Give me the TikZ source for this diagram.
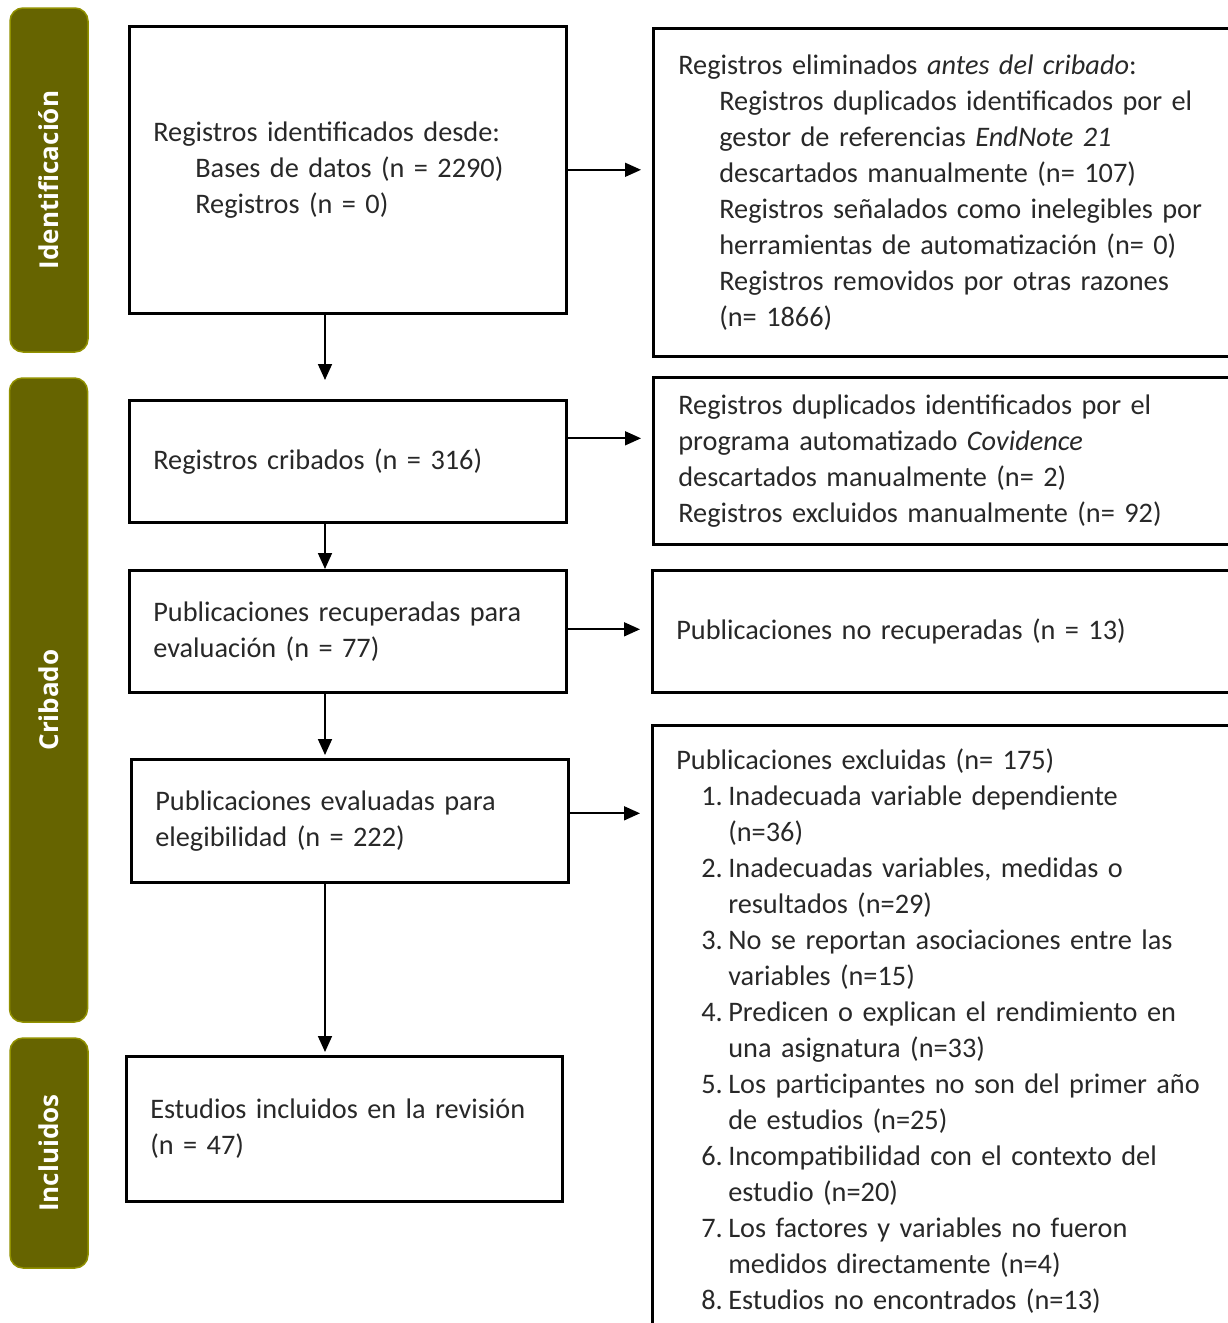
\documentclass[tikz,border=0pt]{standalone}
\usepackage{fontspec}
\setmainfont{Carlito}
\newfontfamily\barfont{Open Sans}
\usetikzlibrary{arrows.meta,calc}
\definecolor{olivefill}{RGB}{102,100,0}
\definecolor{oliveedge}{RGB}{145,145,0}
\definecolor{txt}{RGB}{40,40,40}
\newcommand{\litem}[1]{\hspace*{25pt}\makebox[27pt][l]{#1}}
\newcommand{\lcont}{\hspace*{52pt}}
\newcommand{\lind}{\hspace*{41pt}}
\begin{document}
\begin{tikzpicture}[x=1pt,y=-1pt,
  phase/.style={draw=oliveedge, line width=1.5pt, fill=olivefill, rounded corners=13pt,
    rotate=90, minimum height=78pt, inner sep=0pt, text=white,
    font=\barfont\bfseries\fontsize{26}{30}\selectfont},
  box/.style={draw=black, line width=2.6pt, anchor=north west, align=left,
    inner xsep=24pt, inner ysep=0pt, text=txt, font=\fontsize{28.3}{36}\selectfont},
  arr/.style={line width=1.7pt, -{Triangle[length=16pt,width=14pt]}},
]
\clip (0,0) rectangle (1228,1323);

% phase bars
\node[phase, minimum width=344pt] (s1) at (49,180) {Identificación};
\node[phase, minimum width=644pt] (s2) at (48.5,700) {Cribado};
\node[phase, minimum width=230pt] (s3) at (49,1153) {Incluidos};

% left column
\node[box, text width=389pt, minimum height=287pt] (b1) at (128,25)
  {Registros identificados desde:\\
   \hspace*{42pt}Bases de datos (n = 2290)\\
   \hspace*{42pt}Registros (n = 0)};
\node[box, text width=389pt, minimum height=122pt] (b2) at (128,399)
  {Registros cribados (n = 316)};
\node[box, text width=389pt, minimum height=122pt] (b3) at (128,569)
  {Publicaciones recuperadas para\\ evaluación (n = 77)};
\node[box, text width=389pt, minimum height=123pt] (b4) at (130,758)
  {Publicaciones evaluadas para\\ elegibilidad (n = 222)};
\node[box, text width=388pt, minimum height=145pt] (b5) at (125,1055)
  {Estudios incluidos en la revisión\\ (n = 47)};

% right column
\node[box, inner xsep=25pt, text width=560pt, minimum height=328pt] (r1) at (652,27)
  {Registros eliminados \textit{antes del cribado}:\\
   \lind Registros duplicados identificados por el\\
   \lind gestor de referencias \textit{EndNote 21}\\
   \lind descartados manualmente (n= 107)\\
   \lind Registros señalados como inelegibles por\\
   \lind herramientas de automatización (n= 0)\\
   \lind Registros removidos por otras razones\\
   \lind (n= 1866)};
\node[box, inner xsep=25pt, text width=560pt, minimum height=167pt] (r2) at (652,376)
  {Registros duplicados identificados por el\\
   programa automatizado \textit{Covidence}\\
   descartados manualmente (n= 2)\\
   Registros excluidos manualmente (n= 92)};
\node[box, text width=562pt, minimum height=122pt] (r3) at (651,569)
  {Publicaciones no recuperadas (n = 13)};
\node[box, text width=562pt, minimum height=612pt] (r4) at (651,724)
  {Publicaciones excluidas (n= 175)\\
   \litem{1.}Inadecuada variable dependiente\\
   \lcont(n=36)\\
   \litem{2.}Inadecuadas variables, medidas o\\
   \lcont resultados (n=29)\\
   \litem{3.}No se reportan asociaciones entre las\\
   \lcont variables (n=15)\\
   \litem{4.}Predicen o explican el rendimiento en\\
   \lcont una asignatura (n=33)\\
   \litem{5.}Los participantes no son del primer año\\
   \lcont de estudios (n=25)\\
   \litem{6.}Incompatibilidad con el contexto del\\
   \lcont estudio (n=20)\\
   \litem{7.}Los factores y variables no fueron\\
   \lcont medidos directamente (n=4)\\
   \litem{8.}Estudios no encontrados (n=13)};

% connectors
\coordinate (ax) at (325,0);
\draw[arr, shorten >=19pt] (b1.south -| ax) -- (b2.north -| ax);
\draw[arr] (b2.south -| ax) -- (b3.north -| ax);
\draw[arr, shorten >=3pt] (b3.south -| ax) -- (b4.north -| ax);
\draw[arr, shorten >=3pt] (b4.south -| ax) -- (b5.north -| ax);

\coordinate (a1) at (b1.east);
\coordinate (a2) at ([yshift=23pt]b2.east);
\coordinate (a3) at ([yshift=2pt]b3.east);
\coordinate (a4) at ([yshift=7.5pt]b4.east);
\draw[arr, shorten >=11pt] (a1) -- (a1 -| r1.west);
\draw[arr, shorten >=11pt] (a2) -- (a2 -| r2.west);
\draw[arr, shorten >=11pt] (a3) -- (a3 -| r3.west);
\draw[arr, shorten >=11pt] (a4) -- (a4 -| r4.west);
\end{tikzpicture}
\end{document}
